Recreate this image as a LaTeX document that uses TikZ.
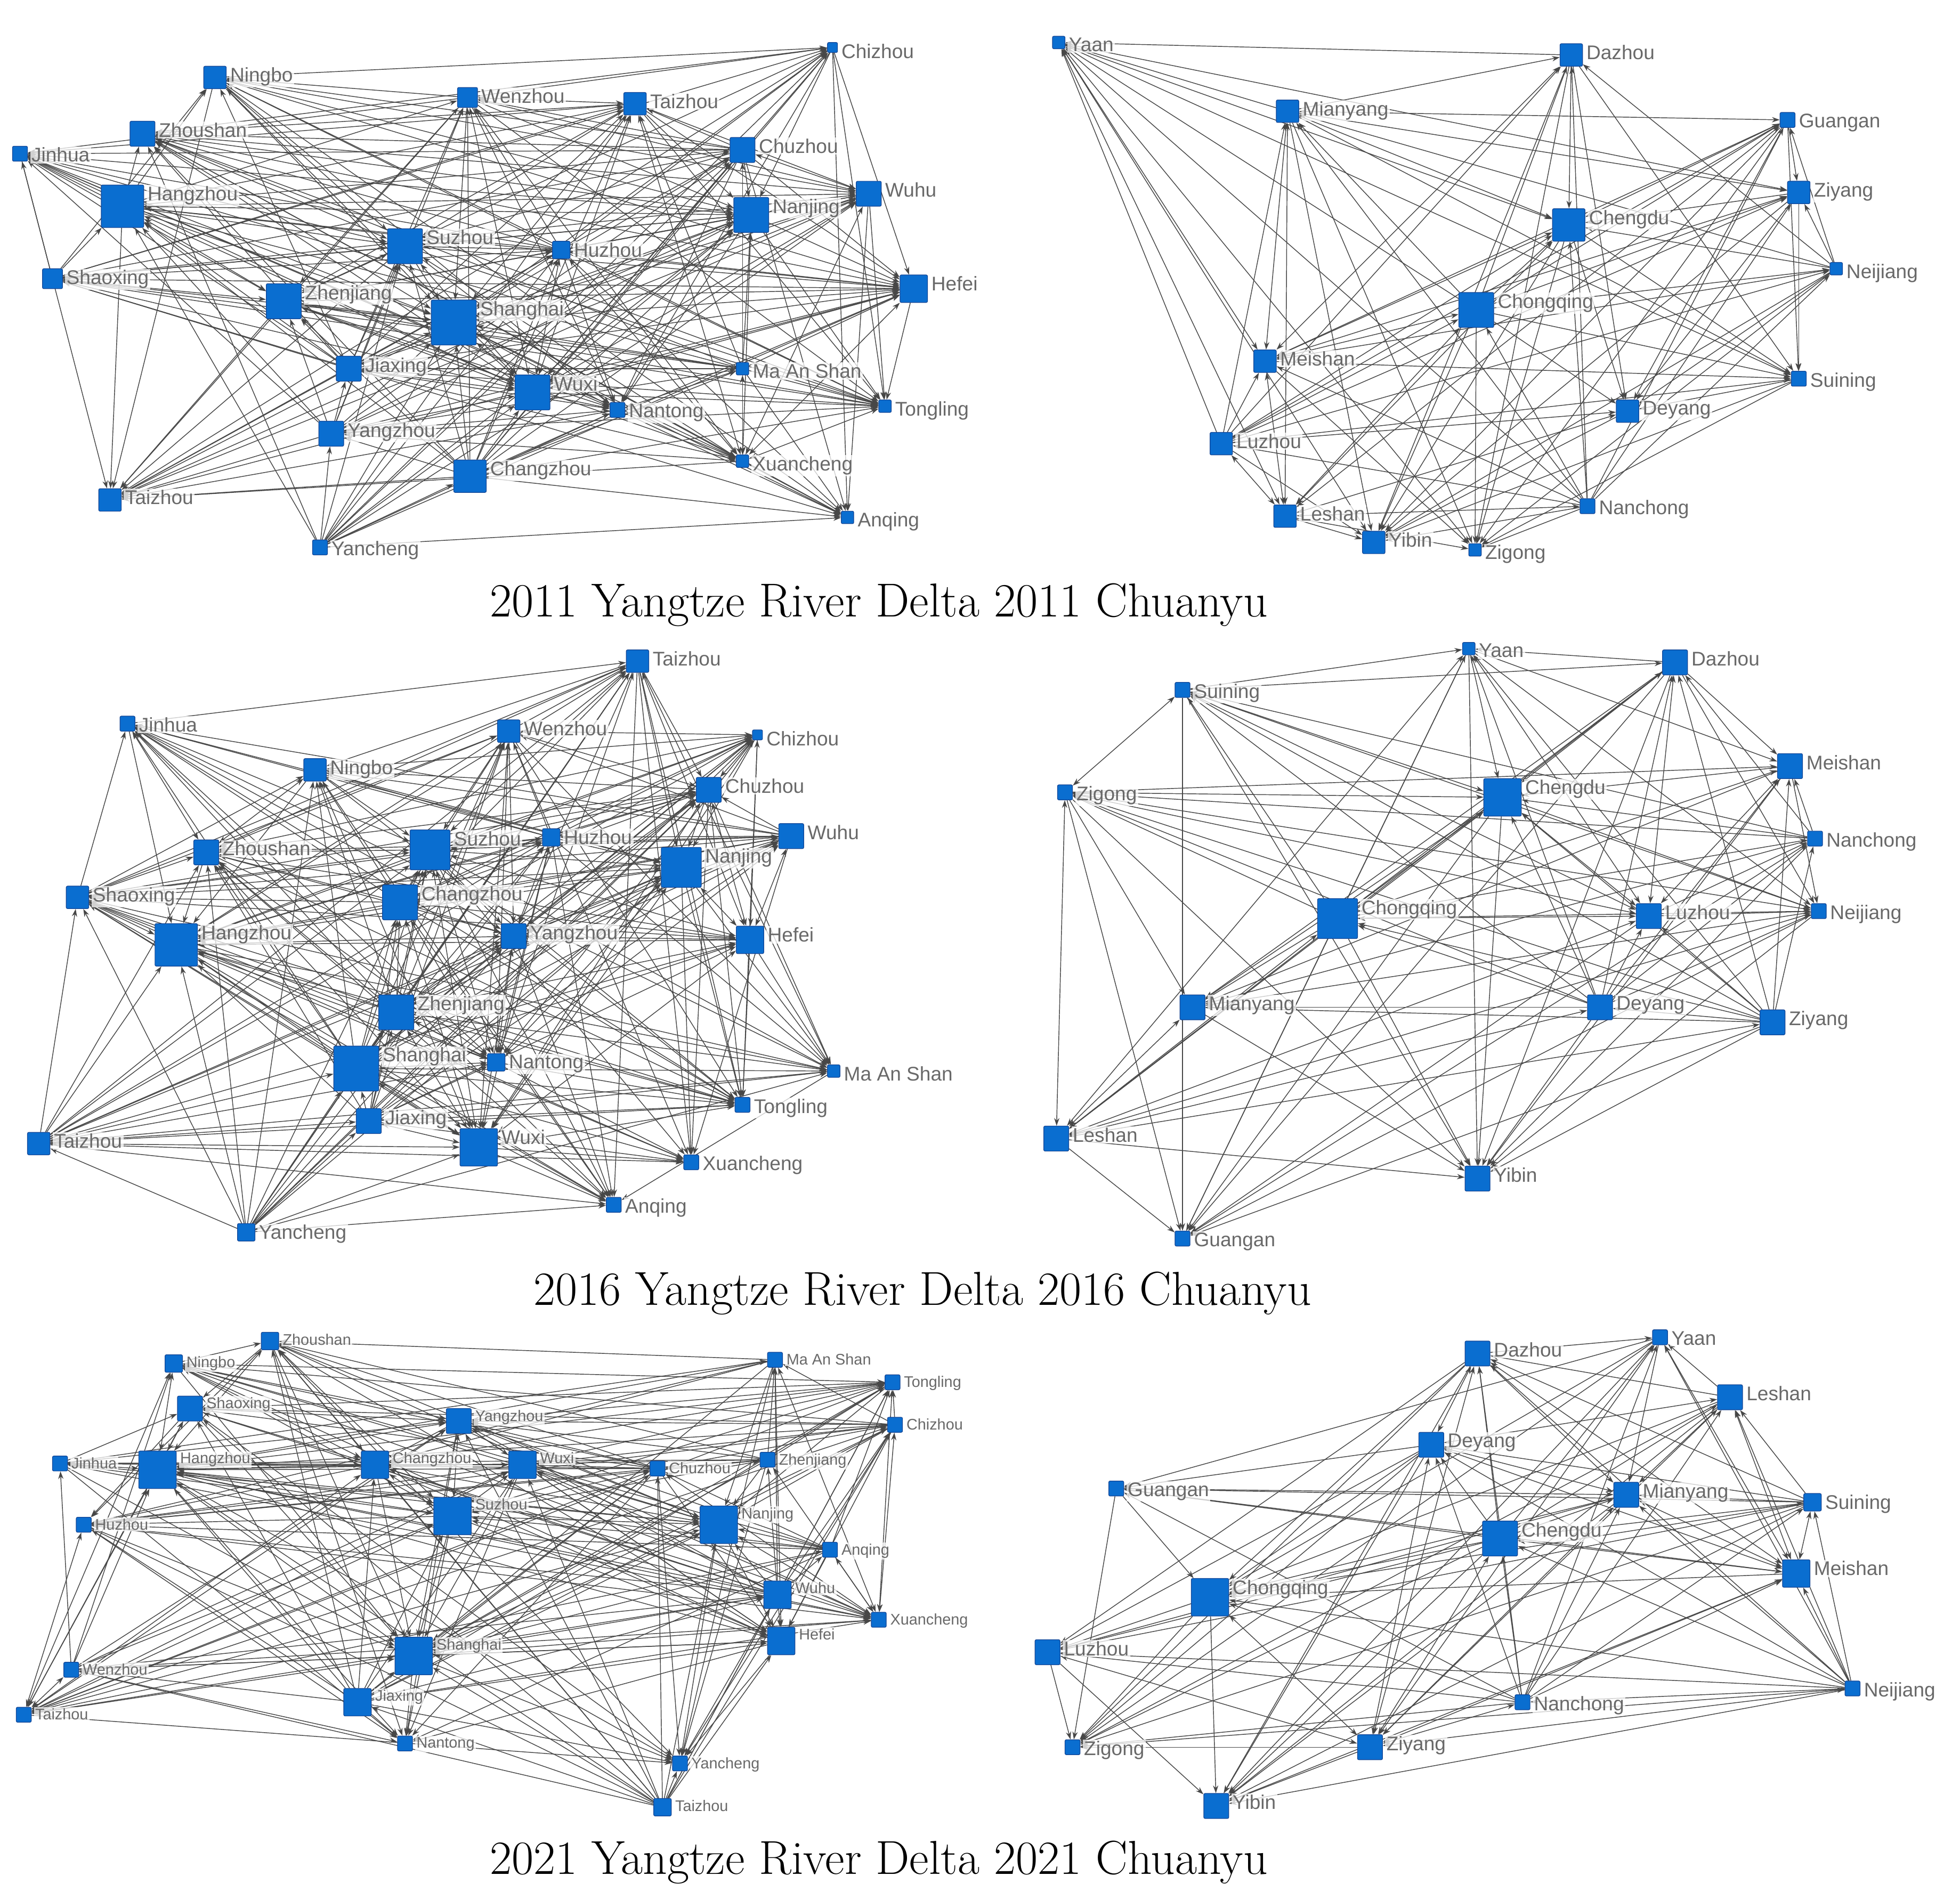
\documentclass[tikz,border=0pt]{standalone}
\usepackage{fontspec}
\newfontfamily\labfont{Liberation Sans}
\usetikzlibrary{arrows.meta,backgrounds}
\definecolor{nodeblue}{RGB}{10,110,208}
\definecolor{nodeedge}{RGB}{20,70,150}
\definecolor{labgray}{RGB}{105,105,105}
\tikzset{
 citybox/.style={rectangle, rounded corners=0.6pt, fill=nodeblue, draw=nodeedge, line width=0.3pt, inner sep=0pt},
 citylab/.style={font=\labfont\fontsize{9}{10}\selectfont, text=labgray, fill=white, fill opacity=0.75, text opacity=1, inner sep=0.6pt, anchor=north west},
 link/.style={draw=black!72, line width=0.35pt, >={Stealth[length=3.5pt,width=2.4pt]}},
 titletext/.style={font=\fontsize{21.7}{24}\selectfont}
}
\newcommand\citynode[6]{%
 \node[citybox, minimum size=#5*0.2mm] (#1#2) at (#3,#4) {};
 \node[citylab] (#1#2l) at ([xshift=0.3mm]#1#2.north east) {#6};
 \expandafter\gdef\csname sz#1#2\endcsname{#5}}
\newcommand\drawedges[3]{%
 \foreach \i in {1,...,#2}{%
  \foreach \j in {1,...,#2}{%
   \ifnum\i<\j\relax
    \edef\sa{\csname sz#1\i\endcsname}\edef\sb{\csname sz#1\j\endcsname}%
    \pgfmathtruncatemacro\hh{mod(mod(\i*\i*7,31)+mod(\j*\j*13,31)+mod(\i*\j*17,31)+3*\i+5*\j,31)}%
    \pgfmathtruncatemacro\ww{(\sa+\sb)/2+#3}%
    \ifnum\hh<\ww\relax
     \pgfmathtruncatemacro\dd{mod(\i*5+\j*3,5)}%
     \ifcase\dd\relax \draw[link,->] (#1\i) -- (#1\j);
     \or \draw[link,<-] (#1\i) -- (#1\j);
     \or \draw[link,<->] (#1\i) -- (#1\j);
     \or \draw[link,->] (#1\i) -- (#1\j);
     \else \draw[link,<-] (#1\i) -- (#1\j);
     \fi
    \fi
   \fi}}}
\begin{document}
\begin{tikzpicture}[x=0.02cm,y=-0.02cm]
\useasboundingbox (0,0) rectangle (1568,1520);
% ---- 2011 Yangtze River Delta
\citynode{A}{1}{666}{38}{8}{Chizhou}
\citynode{A}{2}{172}{62}{18}{Ningbo}
\citynode{A}{3}{374}{78}{16}{Wenzhou}
\citynode{A}{4}{508}{83}{18}{Taizhou}
\citynode{A}{5}{114}{107}{20}{Zhoushan}
\citynode{A}{6}{16}{123}{12}{Jinhua}
\citynode{A}{7}{594}{120}{20}{Chuzhou}
\citynode{A}{8}{98}{165}{34}{Hangzhou}
\citynode{A}{9}{695}{155}{20}{Wuhu}
\citynode{A}{10}{601}{172}{28}{Nanjing}
\citynode{A}{11}{324}{197}{28}{Suzhou}
\citynode{A}{12}{449}{200}{14}{Huzhou}
\citynode{A}{13}{42}{223}{16}{Shaoxing}
\citynode{A}{14}{227}{241}{28}{Zhenjiang}
\citynode{A}{15}{731}{231}{22}{Hefei}
\citynode{A}{16}{363}{258}{36}{Shanghai}
\citynode{A}{17}{279}{295}{20}{Jiaxing}
\citynode{A}{18}{594}{295}{10}{Ma An Shan}
\citynode{A}{19}{426}{314}{28}{Wuxi}
\citynode{A}{20}{494}{328}{12}{Nantong}
\citynode{A}{21}{708}{325}{10}{Tongling}
\citynode{A}{22}{265}{347}{20}{Yangzhou}
\citynode{A}{23}{376}{381}{26}{Changzhou}
\citynode{A}{24}{594}{369}{10}{Xuancheng}
\citynode{A}{25}{88}{400}{18}{Taizhou}
\citynode{A}{26}{678}{414}{10}{Anqing}
\citynode{A}{27}{256}{438}{12}{Yancheng}
% ---- 2011 Chuanyu
\citynode{B}{1}{847}{34}{10}{Yaan}
\citynode{B}{2}{1257}{44}{18}{Dazhou}
\citynode{B}{3}{1030}{89}{18}{Mianyang}
\citynode{B}{4}{1430}{96}{12}{Guangan}
\citynode{B}{5}{1439}{154}{18}{Ziyang}
\citynode{B}{6}{1255}{180}{26}{Chengdu}
\citynode{B}{7}{1469}{215}{10}{Neijiang}
\citynode{B}{8}{1181}{248}{28}{Chongqing}
\citynode{B}{9}{1012}{289}{18}{Meishan}
\citynode{B}{10}{1439}{303}{12}{Suining}
\citynode{B}{11}{1302}{329}{18}{Deyang}
\citynode{B}{12}{977}{355}{18}{Luzhou}
\citynode{B}{13}{1270}{405}{12}{Nanchong}
\citynode{B}{14}{1028}{413}{18}{Leshan}
\citynode{B}{15}{1099}{434}{18}{Yibin}
\citynode{B}{16}{1180}{440}{10}{Zigong}
% ---- 2016 Yangtze River Delta
\citynode{C}{1}{510}{529}{18}{Taizhou}
\citynode{C}{2}{102}{579}{12}{Jinhua}
\citynode{C}{3}{407}{585}{18}{Wenzhou}
\citynode{C}{4}{606}{588}{8}{Chizhou}
\citynode{C}{5}{252}{616}{18}{Ningbo}
\citynode{C}{6}{567}{632}{20}{Chuzhou}
\citynode{C}{7}{441}{670}{14}{Huzhou}
\citynode{C}{8}{633}{669}{20}{Wuhu}
\citynode{C}{9}{165}{682}{20}{Zhoushan}
\citynode{C}{10}{344}{680}{32}{Suzhou}
\citynode{C}{11}{545}{694}{32}{Nanjing}
\citynode{C}{12}{62}{718}{18}{Shaoxing}
\citynode{C}{13}{320}{722}{28}{Changzhou}
\citynode{C}{14}{600}{752}{22}{Hefei}
\citynode{C}{15}{141}{756}{34}{Hangzhou}
\citynode{C}{16}{411}{749}{20}{Yangzhou}
\citynode{C}{17}{317}{810}{28}{Zhenjiang}
\citynode{C}{18}{285}{855}{36}{Shanghai}
\citynode{C}{19}{397}{850}{14}{Nantong}
\citynode{C}{20}{667}{857}{10}{Ma An Shan}
\citynode{C}{21}{594}{884}{12}{Tongling}
\citynode{C}{22}{295}{897}{20}{Jiaxing}
\citynode{C}{23}{31}{915}{18}{Taizhou}
\citynode{C}{24}{383}{918}{30}{Wuxi}
\citynode{C}{25}{553}{930}{12}{Xuancheng}
\citynode{C}{26}{491}{964}{12}{Anqing}
\citynode{C}{27}{197}{986}{14}{Yancheng}
% ---- 2016 Chuanyu
\citynode{D}{1}{1175}{519}{10}{Yaan}
\citynode{D}{2}{1340}{530}{20}{Dazhou}
\citynode{D}{3}{946}{552}{12}{Suining}
\citynode{D}{4}{852}{634}{12}{Zigong}
\citynode{D}{5}{1432}{613}{20}{Meishan}
\citynode{D}{6}{1202}{638}{30}{Chengdu}
\citynode{D}{7}{1452}{671}{12}{Nanchong}
\citynode{D}{8}{1070}{735}{32}{Chongqing}
\citynode{D}{9}{1319}{733}{20}{Luzhou}
\citynode{D}{10}{1455}{729}{12}{Neijiang}
\citynode{D}{11}{954}{806}{20}{Mianyang}
\citynode{D}{12}{1280}{806}{20}{Deyang}
\citynode{D}{13}{1418}{818}{20}{Ziyang}
\citynode{D}{14}{845}{911}{20}{Leshan}
\citynode{D}{15}{1182}{943}{20}{Yibin}
\citynode{D}{16}{946}{991}{12}{Guangan}
% ---- 2021 Yangtze River Delta
\begin{scope}[citylab/.append style={font=\labfont\fontsize{7}{8}\selectfont}]
\citynode{E}{1}{216}{1073}{14}{Zhoushan}
\citynode{E}{2}{620}{1088}{12}{Ma An Shan}
\citynode{E}{3}{139}{1091}{14}{Ningbo}
\citynode{E}{4}{714}{1106}{12}{Tongling}
\citynode{E}{5}{152}{1127}{20}{Shaoxing}
\citynode{E}{6}{367}{1137}{20}{Yangzhou}
\citynode{E}{7}{716}{1140}{12}{Chizhou}
\citynode{E}{8}{48}{1171}{12}{Jinhua}
\citynode{E}{9}{126}{1176}{30}{Hangzhou}
\citynode{E}{10}{300}{1172}{22}{Changzhou}
\citynode{E}{11}{418}{1172}{22}{Wuxi}
\citynode{E}{12}{526}{1175}{12}{Chuzhou}
\citynode{E}{13}{614}{1168}{12}{Zhenjiang}
\citynode{E}{14}{362}{1213}{30}{Suzhou}
\citynode{E}{15}{67}{1220}{12}{Huzhou}
\citynode{E}{16}{575}{1220}{30}{Nanjing}
\citynode{E}{17}{664}{1240}{12}{Anqing}
\citynode{E}{18}{622}{1276}{22}{Wuhu}
\citynode{E}{19}{703}{1296}{12}{Xuancheng}
\citynode{E}{20}{625}{1313}{22}{Hefei}
\citynode{E}{21}{331}{1325}{30}{Shanghai}
\citynode{E}{22}{57}{1336}{12}{Wenzhou}
\citynode{E}{23}{286}{1362}{22}{Jiaxing}
\citynode{E}{24}{19}{1372}{12}{Taizhou}
\citynode{E}{25}{324}{1395}{12}{Nantong}
\citynode{E}{26}{544}{1411}{12}{Yancheng}
\citynode{E}{27}{530}{1446}{14}{Taizhou}
\end{scope}
% ---- 2021 Chuanyu
\citynode{F}{1}{1328}{1070}{12}{Yaan}
\citynode{F}{2}{1182}{1083}{20}{Dazhou}
\citynode{F}{3}{1384}{1118}{20}{Leshan}
\citynode{F}{4}{1145}{1156}{20}{Deyang}
\citynode{F}{5}{893}{1191}{12}{Guangan}
\citynode{F}{6}{1301}{1196}{20}{Mianyang}
\citynode{F}{7}{1450}{1202}{14}{Suining}
\citynode{F}{8}{1200}{1231}{28}{Chengdu}
\citynode{F}{9}{1437}{1259}{22}{Meishan}
\citynode{F}{10}{968}{1278}{30}{Chongqing}
\citynode{F}{11}{838}{1322}{20}{Luzhou}
\citynode{F}{12}{1218}{1362}{12}{Nanchong}
\citynode{F}{13}{1482}{1351}{12}{Neijiang}
\citynode{F}{14}{1096}{1398}{20}{Ziyang}
\citynode{F}{15}{858}{1398}{12}{Zigong}
\citynode{F}{16}{973}{1445}{20}{Yibin}
% ---- titles
\node[titletext] (t1) at (703,484) {2011 Yangtze River Delta 2011 Chuanyu};
\node[titletext] (t2) at (738,1035) {2016 Yangtze River Delta 2016 Chuanyu};
\node[titletext] (t3) at (703,1490) {2021 Yangtze River Delta 2021 Chuanyu};
% ---- connectors
\begin{scope}[on background layer]
\drawedges{A}{27}{4}
\drawedges{B}{16}{9}
\drawedges{C}{27}{4}
\drawedges{D}{16}{9}
\drawedges{E}{27}{4}
\drawedges{F}{16}{9}
\end{scope}
\end{tikzpicture}
\end{document}
